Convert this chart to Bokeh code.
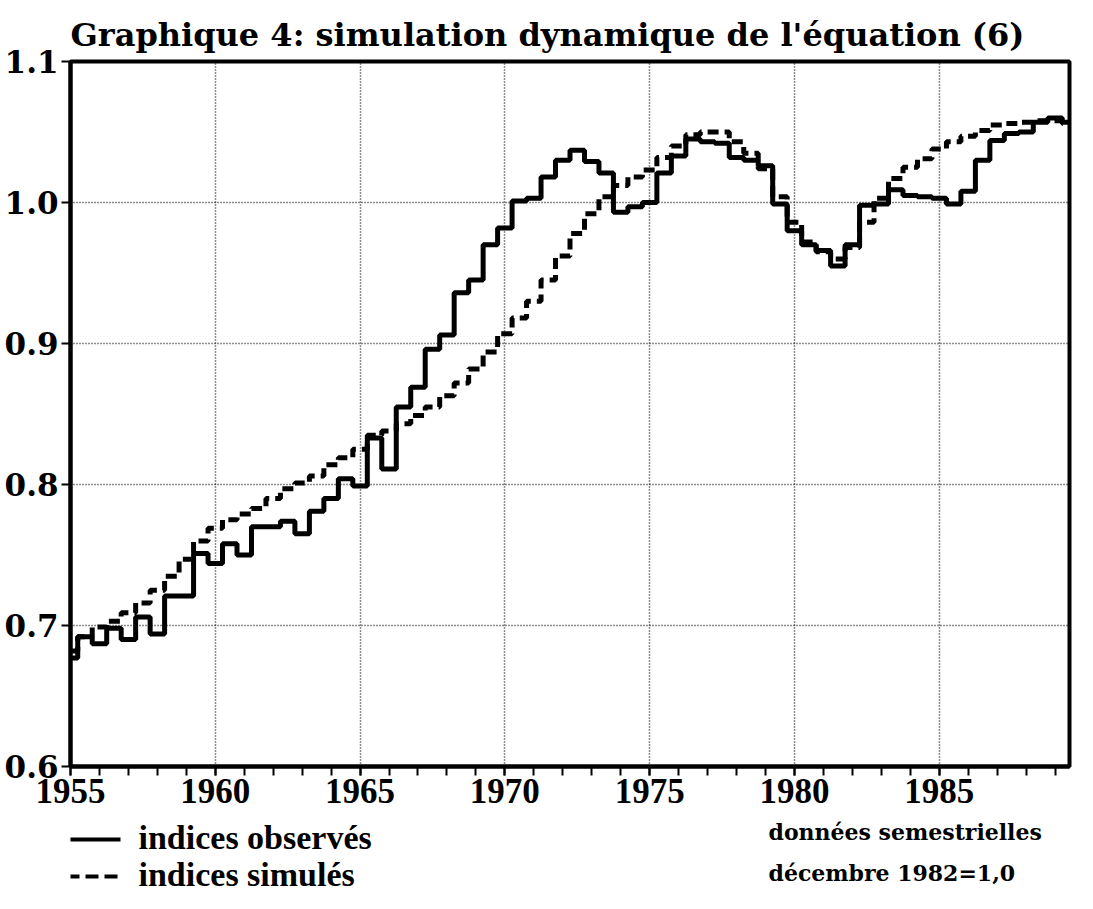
from bokeh.plotting import figure
from bokeh.layouts import column
from bokeh.models import FixedTicker, Range1d, PrintfTickFormatter
from bokeh.core.properties import value
from bokeh.embed import file_html
from bokeh.resources import INLINE

# ---- data (semi-annual observations, December 1982 = 1.0) ----
periods = [1955.0, 1955.5, 1956.0, 1956.5, 1957.0, 1957.5, 1958.0, 1958.5, 1959.0, 1959.5,
           1960.0, 1960.5, 1961.0, 1961.5, 1962.0, 1962.5, 1963.0, 1963.5, 1964.0, 1964.5,
           1965.0, 1965.5, 1966.0, 1966.5, 1967.0, 1967.5, 1968.0, 1968.5, 1969.0, 1969.5,
           1970.0, 1970.5, 1971.0, 1971.5, 1972.0, 1972.5, 1973.0, 1973.5, 1974.0, 1974.5,
           1975.0, 1975.5, 1976.0, 1976.5, 1977.0, 1977.5, 1978.0, 1978.5, 1979.0, 1979.5,
           1980.0, 1980.5, 1981.0, 1981.5, 1982.0, 1982.5, 1983.0, 1983.5, 1984.0, 1984.5,
           1985.0, 1985.5, 1986.0, 1986.5, 1987.0, 1987.5, 1988.0, 1988.5, 1989.0, 1989.5]

observes = [0.677, 0.692, 0.687, 0.698, 0.690, 0.706, 0.694, 0.721, 0.721, 0.751,
            0.744, 0.758, 0.750, 0.770, 0.770, 0.774, 0.765, 0.781, 0.790, 0.804,
            0.799, 0.833, 0.811, 0.855, 0.869, 0.896, 0.906, 0.936, 0.945, 0.970,
            0.982, 1.001, 1.003, 1.018, 1.030, 1.037, 1.029, 1.021, 0.993, 0.997,
            1.000, 1.021, 1.033, 1.045, 1.043, 1.042, 1.032, 1.030, 1.026, 0.999,
            0.980, 0.970, 0.966, 0.955, 0.970, 0.998, 0.999, 1.009, 1.005, 1.004,
            1.003, 0.999, 1.008, 1.030, 1.044, 1.049, 1.050, 1.057, 1.060, 1.057]

simules = [0.682, 0.692, 0.699, 0.703, 0.709, 0.716, 0.725, 0.735, 0.747, 0.760,
           0.769, 0.775, 0.779, 0.783, 0.790, 0.797, 0.801, 0.806, 0.814, 0.819,
           0.825, 0.835, 0.838, 0.843, 0.849, 0.855, 0.863, 0.872, 0.882, 0.894,
           0.907, 0.918, 0.930, 0.945, 0.962, 0.978, 0.992, 1.004, 1.012, 1.018,
           1.023, 1.032, 1.040, 1.048, 1.050, 1.050, 1.043, 1.035, 1.024, 1.004,
           0.986, 0.972, 0.965, 0.960, 0.968, 0.986, 1.003, 1.017, 1.025, 1.031,
           1.038, 1.043, 1.047, 1.051, 1.055, 1.056, 1.057, 1.058, 1.058, 1.056]

x_major = [1955, 1960, 1965, 1970, 1975, 1980, 1985]
x_minor = [1955, 1956, 1957, 1958, 1959, 1960, 1961, 1962, 1963, 1964, 1965, 1966,
           1967, 1968, 1969, 1970, 1971, 1972, 1973, 1974, 1975, 1976, 1977, 1978,
           1979, 1980, 1981, 1982, 1983, 1984, 1985, 1986, 1987, 1988, 1989]
y_major = [0.6, 0.7, 0.8, 0.9, 1.0, 1.1]

title_text = "Graphique 4: simulation dynamique de l'équation (6)"
legend_obs = "indices observés"
legend_sim = "indices simulés"
note_1 = "données semestrielles"
note_2 = "décembre 1982=1,0"

# ---- main figure ----
p = figure(width=1085, height=817, output_backend="svg", toolbar_location=None,
           x_range=Range1d(1955, 1989.5), y_range=Range1d(0.6, 1.1),
           min_border_left=70, min_border_right=16, min_border_top=61,
           min_border_bottom=51)
p.background_fill_color = "white"
p.border_fill_color = "white"
p.outline_line_color = "black"
p.outline_line_width = 4

p.title.text = title_text
p.title.text_font = "DejaVu Serif"
p.title.text_font_style = "bold"
p.title.text_font_size = "32px"
p.title.align = "left"
p.title.offset = 0
p.title.standoff = 15
p.title.text_color = "black"

p.xaxis.ticker = FixedTicker(ticks=x_major, minor_ticks=x_minor)
p.yaxis.ticker = FixedTicker(ticks=y_major, minor_ticks=[])
p.yaxis.formatter = PrintfTickFormatter(format="%.1f")
for ax in (p.xaxis[0], p.yaxis[0]):
    ax.axis_line_width = 4
    ax.axis_line_color = "black"
    ax.major_tick_line_width = 2
    ax.major_tick_line_color = "black"
    ax.major_tick_in = 0
    ax.major_tick_out = 9
    ax.minor_tick_line_width = 2
    ax.minor_tick_line_color = "black"
    ax.minor_tick_in = 0
    ax.minor_tick_out = 9
    ax.major_label_text_color = "black"
    ax.major_label_text_font_style = "bold"
p.xaxis.major_label_text_font = "Liberation Serif"
p.xaxis.major_label_text_font_size = "35px"
p.xaxis.major_label_standoff = 3
p.yaxis.major_label_text_font = "DejaVu Serif"
p.yaxis.major_label_text_font_size = "31px"
p.yaxis.major_label_standoff = 3
p.yaxis.minor_tick_out = 0

for g in (p.xgrid[0], p.ygrid[0]):
    g.grid_line_color = "black"
    g.grid_line_dash = "1 2"
    g.grid_line_width = 1.5
    g.grid_line_alpha = 0.9

p.step(periods, observes, mode="center", line_color="black", line_width=5)
p.step(periods, simules, mode="center", line_color="black", line_width=5,
       line_dash="11 6")

# ---- legend strip below the chart (x in page pixels; its frame is aligned
#      with the chart frame, 70..1069) ----
q = figure(width=1085, height=90, output_backend="svg", toolbar_location=None,
           x_range=Range1d(70, 1069), y_range=Range1d(90, 0),
           x_axis_type=None, y_axis_type=None,
           min_border_left=70, min_border_right=16, min_border_top=0,
           min_border_bottom=0)
q.outline_line_color = None
q.grid.visible = False
q.background_fill_color = "white"
q.border_fill_color = "white"

q.line([65, 120], [22, 22], line_color="black", line_width=4)
q.line([66, 118], [59, 59], line_color="black", line_width=4, line_dash="13 6")
q.text(x=[138, 138], y=[20, 57], text=[legend_obs, legend_sim],
       text_font=value("Liberation Serif"), text_font_size=value("34px"),
       text_font_style="bold", text_baseline="middle", text_align="left",
       text_color="black")
q.text(x=[768, 768], y=[14, 55], text=[note_1, note_2],
       text_font=value("DejaVu Serif"), text_font_size=value("22px"),
       text_font_style="bold", text_baseline="middle", text_align="left",
       text_color="black")

layout = column(p, q, spacing=0)
open("out.html", "w").write(file_html(layout, INLINE))
